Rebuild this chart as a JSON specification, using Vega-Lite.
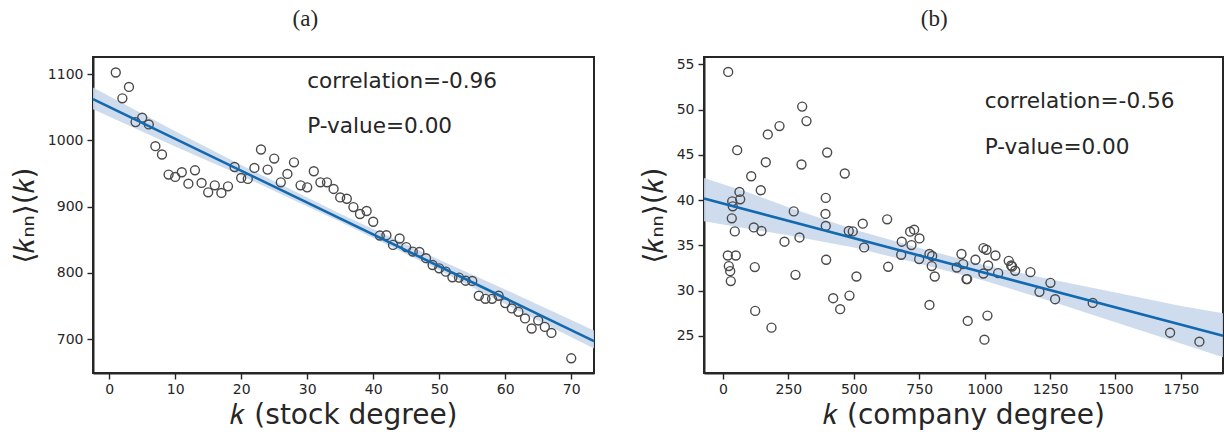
{
  "$schema": "https://vega.github.io/schema/vega-lite/v6.json",
  "background": "white",
  "padding": {"left": 10, "top": 7, "right": 0, "bottom": 0},
  "bounds": "flush",
  "spacing": 110,
  "config": {
    "view": {"stroke": "#262626", "strokeWidth": 2},
    "axis": {
      "grid": false,
      "domainColor": "#262626",
      "domainWidth": 2,
      "tickColor": "#262626",
      "tickWidth": 1.4,
      "tickSize": 6,
      "labelFont": "DejaVu Sans",
      "labelFontSize": 14,
      "labelColor": "#262626",
      "titleFont": "DejaVu Sans",
      "titleFontWeight": "normal",
      "titleColor": "#262626",
      "format": "d"
    },
    "title": {"font": "Liberation Serif", "fontSize": 23, "fontWeight": "normal", "color": "#262626", "frame": "bounds", "anchor": "middle", "offset": 26}
  },
  "datasets": {
    "a_pts": [
      {"k":1,"v":1102.6},{"k":2,"v":1063.6},{"k":3,"v":1080.8},{"k":4,"v":1027.7},{"k":5,"v":1034.4},
      {"k":6,"v":1024.2},{"k":7,"v":991.4},{"k":8,"v":978.8},{"k":9,"v":948.5},{"k":10,"v":945},
      {"k":11,"v":952},{"k":12,"v":934.8},{"k":13,"v":955},{"k":14,"v":935.9},{"k":15,"v":921.7},
      {"k":16,"v":932.3},{"k":17,"v":920.8},{"k":18,"v":930.8},{"k":19,"v":960},{"k":20,"v":943.5},
      {"k":21,"v":942},{"k":22,"v":958.6},{"k":23,"v":986.4},{"k":24,"v":956},{"k":25,"v":972.7},
      {"k":26,"v":936.8},{"k":27,"v":949.5},{"k":28,"v":967},{"k":29,"v":932.3},{"k":30,"v":929.2},
      {"k":31,"v":953.5},{"k":32,"v":936.8},{"k":33,"v":936.8},{"k":34,"v":926.8},{"k":35,"v":914},
      {"k":36,"v":912},{"k":37,"v":899.5},{"k":38,"v":889},{"k":39,"v":893.5},{"k":40,"v":877.3},
      {"k":41,"v":856.5},{"k":42,"v":857},{"k":43,"v":842.4},{"k":44,"v":852},{"k":45,"v":839},
      {"k":46,"v":832.3},{"k":47,"v":831.8},{"k":48,"v":822.3},{"k":49,"v":812},{"k":50,"v":807},
      {"k":51,"v":802},{"k":52,"v":793.5},{"k":53,"v":793},{"k":54,"v":788.3},{"k":55,"v":788},
      {"k":56,"v":765.6},{"k":57,"v":761},{"k":58,"v":761},{"k":59,"v":765.6},{"k":60,"v":754.5},
      {"k":61,"v":746.5},{"k":62,"v":741.4},{"k":63,"v":731.4},{"k":64,"v":716.2},{"k":65,"v":728.3},
      {"k":66,"v":718.6},{"k":67,"v":709.5},{"k":70,"v":671.2}
    ],
    "a_band": [
      {"k":-2.45,"lo":1047,"hi":1080},{"k":10,"lo":991,"hi":1014},{"k":20,"lo":947,"hi":963},
      {"k":35,"lo":877.5,"hi":889.5},{"k":50,"lo":804,"hi":820},{"k":60,"lo":753,"hi":775},
      {"k":73.45,"lo":686,"hi":713}
    ],
    "a_txt": [
      {"k":30,"v":1089,"t":"correlation=-0.96"},
      {"k":30,"v":1020,"t":"P-value=0.00"}
    ],
    "b_pts": [
      {"k":19.9,"v":54.15},{"k":302.6,"v":50.32},{"k":319.1,"v":48.72},{"k":215.9,"v":48.17},{"k":171.2,"v":47.25},
      {"k":54.3,"v":45.51},{"k":398.2,"v":45.25},{"k":163.5,"v":44.18},{"k":300,"v":43.93},{"k":107.8,"v":42.63},
      {"k":465.4,"v":42.93},{"k":63,"v":40.9},{"k":144.4,"v":41.08},{"k":392.8,"v":40.24},{"k":35.2,"v":39.86},
      {"k":65.7,"v":40.08},{"k":37.4,"v":39.31},{"k":270.5,"v":38.75},{"k":391.7,"v":38.47},{"k":33.6,"v":37.98},
      {"k":627.4,"v":37.87},{"k":534.2,"v":37.39},{"k":392.8,"v":37.14},{"k":117.7,"v":36.98},{"k":147.1,"v":36.58},
      {"k":45.1,"v":36.54},{"k":480.7,"v":36.58},{"k":496,"v":36.54},{"k":715.3,"v":36.51},{"k":730.6,"v":36.73},
      {"k":292.3,"v":35.87},{"k":750.9,"v":35.76},{"k":235,"v":35.4},{"k":683.2,"v":35.4},{"k":720.3,"v":35.03},
      {"k":539.5,"v":34.77},{"k":18.3,"v":33.88},{"k":48.9,"v":33.88},{"k":789.1,"v":34.04},{"k":799.4,"v":33.82},
      {"k":22.2,"v":32.71},{"k":27.5,"v":32.15},{"k":29.8,"v":31.05},{"k":121.5,"v":32.6},{"k":123,"v":27.76},
      {"k":185.3,"v":25.91},{"k":277,"v":31.74},{"k":394.3,"v":33.41},{"k":421.1,"v":29.16},{"k":447.8,"v":27.95},
      {"k":483.4,"v":29.45},{"k":510.1,"v":31.56},{"k":631.3,"v":32.63},{"k":681,"v":33.96},{"k":749.7,"v":33.48},
      {"k":797.9,"v":32.71},{"k":809.3,"v":31.56},{"k":789.1,"v":28.42},{"k":911.4,"v":34.04},{"k":893.4,"v":32.55},
      {"k":917.9,"v":32.93},{"k":930.5,"v":31.27},{"k":933.2,"v":31.27},{"k":964.9,"v":33.41},{"k":995.4,"v":34.7},
      {"k":1006.9,"v":34.51},{"k":1013.4,"v":32.77},{"k":995.4,"v":31.89},{"k":1041.3,"v":33.88},{"k":1051.6,"v":31.93},
      {"k":1092.1,"v":33.29},{"k":1101.3,"v":32.77},{"k":1105.1,"v":32.66},{"k":1116.6,"v":32.19},{"k":1175,"v":32.04},
      {"k":1251.4,"v":30.86},{"k":1209.4,"v":29.86},{"k":1269.4,"v":29.05},{"k":1413.1,"v":28.64},{"k":935.4,"v":26.65},
      {"k":1010.7,"v":27.24},{"k":999.2,"v":24.58},{"k":1708.8,"v":25.35},{"k":1820.8,"v":24.36}
    ],
    "b_band": [
      {"k":-72.6,"lo":37.65,"hi":42.45},{"k":100,"lo":36.8,"hi":40.8},{"k":250,"lo":36.1,"hi":39.2},
      {"k":500,"lo":34.75,"hi":36.75},{"k":750,"lo":33.0,"hi":34.7},{"k":1000,"lo":31.1,"hi":32.8},
      {"k":1250,"lo":28.85,"hi":31.25},{"k":1500,"lo":26.5,"hi":29.8},{"k":1750,"lo":24.15,"hi":28.3},
      {"k":1911,"lo":22.63,"hi":27.5}
    ],
    "b_txt": [
      {"k":1000,"v":50.8,"t":"correlation=-0.56"},
      {"k":1000,"v":45.8,"t":"P-value=0.00"}
    ]
  },
  "hconcat": [
    {
      "title": {"text": "(a)"},
      "width": 501,
      "height": 316,
      "encoding": {
        "x": {"field": "k", "type": "quantitative", "scale": {"domain": [-2.45, 73.45], "nice": false, "zero": false},
              "axis": {"values": [0,10,20,30,40,50,60,70], "title": "𝑘 (stock degree)", "titleFontSize": 28, "titlePadding": 5, "labelPadding": 3}},
        "y": {"field": "v", "type": "quantitative", "scale": {"domain": [649, 1126], "nice": false, "zero": false},
              "axis": {"values": [700,800,900,1000,1100], "title": "⟨𝑘ₙₙ⟩(𝑘)", "titleFontSize": 28, "titlePadding": 8, "labelPadding": 4}}
      },
      "layer": [
        {"data": {"name": "a_band"}, "mark": {"type": "area", "color": "#c9d8eb", "opacity": 0.9},
         "encoding": {"y": {"field": "lo", "type": "quantitative"}, "y2": {"field": "hi"}}},
        {"data": {"name": "a_pts"}, "mark": {"type": "point", "filled": false, "stroke": "#4a4a4a", "strokeWidth": 1.4, "size": 80, "opacity": 1}},
        {"data": {"name": "a_pts"}, "transform": [{"regression": "v", "on": "k", "extent": [-2.45, 73.45]}],
         "mark": {"type": "line", "color": "#1269b0", "strokeWidth": 2.6}},
        {"data": {"name": "a_txt"}, "mark": {"type": "text", "align": "left", "baseline": "middle", "font": "DejaVu Sans", "fontSize": 21.6, "color": "#262626"},
         "encoding": {"text": {"field": "t"}}}
      ]
    },
    {
      "title": {"text": "(b)"},
      "width": 519,
      "height": 316,
      "encoding": {
        "x": {"field": "k", "type": "quantitative", "scale": {"domain": [-72.6, 1911], "nice": false, "zero": false},
              "axis": {"values": [0,250,500,750,1000,1250,1500,1750], "title": "𝑘 (company degree)", "titleFontSize": 28, "titlePadding": 5, "labelPadding": 3}},
        "y": {"field": "v", "type": "quantitative", "scale": {"domain": [20.9, 55.8], "nice": false, "zero": false},
              "axis": {"values": [25,30,35,40,45,50,55], "title": "⟨𝑘ₙₙ⟩(𝑘)", "titleFontSize": 28, "titlePadding": 8, "labelPadding": 4}}
      },
      "layer": [
        {"data": {"name": "b_band"}, "mark": {"type": "area", "color": "#c9d8eb", "opacity": 0.9},
         "encoding": {"y": {"field": "lo", "type": "quantitative"}, "y2": {"field": "hi"}}},
        {"data": {"name": "b_pts"}, "mark": {"type": "point", "filled": false, "stroke": "#4a4a4a", "strokeWidth": 1.4, "size": 80, "opacity": 1}},
        {"data": {"name": "b_pts"}, "transform": [{"regression": "v", "on": "k", "extent": [-72.6, 1911]}],
         "mark": {"type": "line", "color": "#1269b0", "strokeWidth": 2.6}},
        {"data": {"name": "b_txt"}, "mark": {"type": "text", "align": "left", "baseline": "middle", "font": "DejaVu Sans", "fontSize": 21.6, "color": "#262626"},
         "encoding": {"text": {"field": "t"}}}
      ]
    }
  ]
}
